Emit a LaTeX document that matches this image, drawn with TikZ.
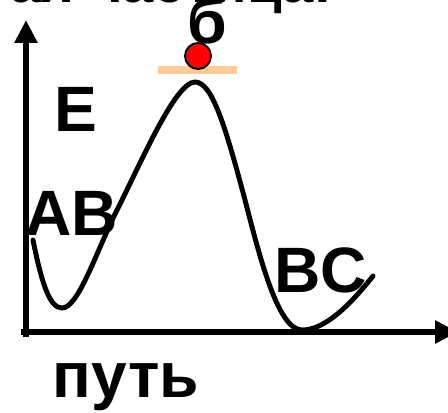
\documentclass[tikz,border=0pt]{standalone}
\usepackage{fontspec}
\setmainfont{Liberation Sans}
\usetikzlibrary{arrows.meta}
\definecolor{peach}{RGB}{255,204,153}
\tikzset{
  axis/.style={line width=3.4pt,-{Triangle[length=0.46cm,width=0.44cm]}},
  curve/.style={line width=2.8pt,line cap=round},
  lbl/.style={font=\fontsize{36.5}{42}\selectfont\bfseries,inner sep=0pt,anchor=base},
  ttl/.style={font=\fontsize{32}{38}\selectfont\bfseries,inner sep=0pt,anchor=base east},
  ball/.style={circle,draw=black,line width=1.1pt,fill=red,minimum size=0.52cm,inner sep=0pt},
  bar/.style={peach,line width=0.16cm},
}

\begin{document}
\begin{tikzpicture}[x=0.02cm,y=-0.02cm]
  \useasboundingbox (0,0) rectangle (448,412);
  \clip (0,0) rectangle (448,412);
  % axes
  \coordinate (O) at (26,332);
  \coordinate (ytop) at (26,20);
  \coordinate (xend) at (458,332);
  \draw[axis] (26,337) -- (ytop);
  \draw[axis] (21,332) -- (xend);
  % energy profile
  \draw[curve] (33,240) .. controls (42,285) and (50,308) .. (62,308)
    .. controls (78,308) and (95,255) .. (116,212)
    .. controls (140,165) and (175,82) .. (195,82)
    .. controls (212,82) and (225,125) .. (245,200)
    .. controls (260,258) and (278,330) .. (302,330)
    .. controls (325,330) and (350,305) .. (373,276);
  % activated particle
  \coordinate (barL) at (158,70);
  \coordinate (barR) at (237,70);
  \draw[bar] (barL) -- (barR);
  \node[ball] (ball) at (198,56) {};
  % labels
  \node[ttl] (title) at (333,3) {ая частица:};
  \node[lbl] (glyph) at (207,44) {б};
  \node[lbl] (E) at (76,131) {E};
  \node[lbl] (AB) at (72,235) {AB};
  \node[lbl] (BC) at (321,292) {BC};
  \node[lbl] (path) at (126,397) {путь};
\end{tikzpicture}
\end{document}
